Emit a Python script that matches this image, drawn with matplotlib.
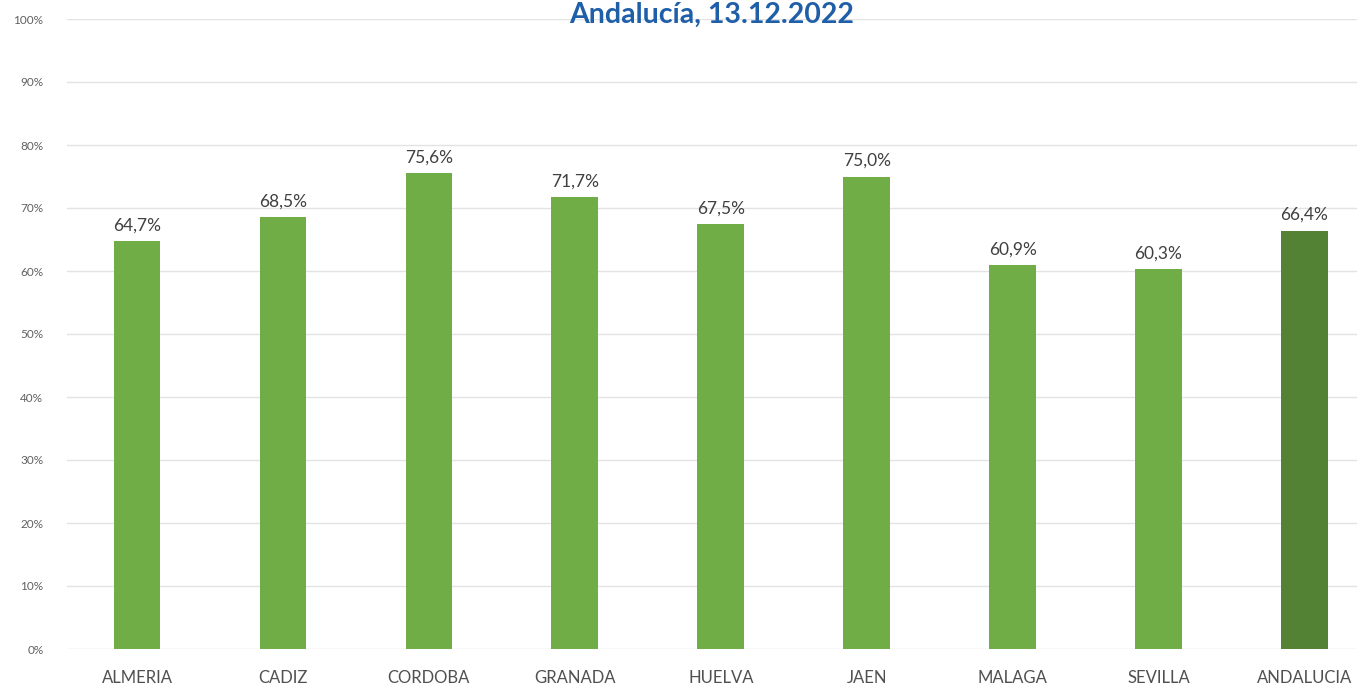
import matplotlib
matplotlib.use("Agg")
import matplotlib.pyplot as plt
from matplotlib.ticker import FuncFormatter

categories = ["ALMERIA", "CADIZ", "CORDOBA", "GRANADA", "HUELVA", "JAEN", "MALAGA", "SEVILLA", "ANDALUCIA"]
values = [64.7, 68.5, 75.6, 71.7, 67.5, 75.0, 60.9, 60.3, 66.4]
title_text = "Andalucía, 13.12.2022"

W, H = 1357, 689
fig = plt.figure(figsize=(W / 100, H / 100), dpi=100)
ax = fig.add_axes([67 / W, (H - 649) / H, 1 - 67 / W, (649 - 19) / H])

colors = ["#70AD47"] * (len(categories) - 1) + ["#548235"]
x = list(range(len(categories)))
bars = ax.bar(x, values, width=0.32, color=colors, zorder=3)

for xi, v in zip(x, values):
    ax.text(xi, v + 1.2, f"{v:.1f}%".replace(".", ","), ha="center", va="bottom",
            fontsize=12.5, color="#404040", family="Lato", zorder=4)

ax.set_ylim(0, 100)
ax.set_xlim(-0.48, 8.36)
ax.set_yticks(range(0, 101, 10))
ax.yaxis.set_major_formatter(FuncFormatter(lambda v, p: f"{int(v)}%"))
ax.grid(axis="y", color="#E3E3E3", linewidth=1, zorder=0)
ax.set_xticks(x)
ax.set_xticklabels(categories, family="Lato", fontsize=12, color="#505050")
for lab in ax.get_yticklabels():
    lab.set_family("Lato")
    lab.set_fontsize(8.5)
    lab.set_color("#606060")
ax.tick_params(axis="y", length=0, pad=17)
ax.tick_params(axis="x", length=0, pad=15)
for s in ax.spines.values():
    s.set_visible(False)

fig.text(712 / W, (H - 15) / H, title_text, ha="center", va="center",
         fontsize=20.5, fontweight="bold", color="#1F5FA8", family="Lato")

fig.savefig("out.png", dpi=100, facecolor="white")
